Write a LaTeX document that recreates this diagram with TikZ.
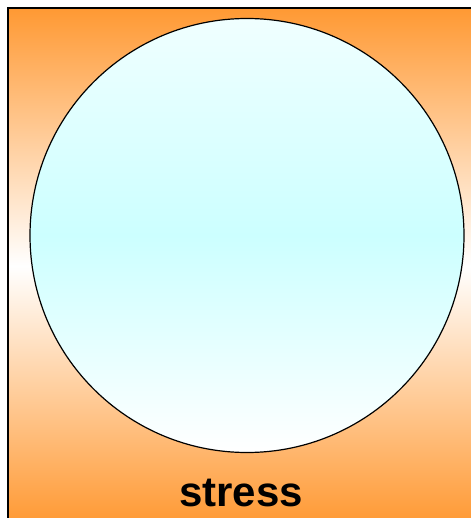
\documentclass[tikz,border=0pt]{standalone}
\usepackage{fontspec}
\setmainfont{Liberation Sans}
\definecolor{orng}{RGB}{255,153,51}
\definecolor{cyanmid}{RGB}{204,255,255}
\definecolor{cyantop}{RGB}{240,255,255}
\tikzset{
  panel/.style={top color=orng, bottom color=orng, middle color=white},
  edge/.style={draw=black, line width=2bp},
  ball/.style={draw=black, line width=1.2bp, top color=cyantop, bottom color=white, middle color=cyanmid},
  caption/.style={font=\bfseries\fontsize{42bp}{46bp}\selectfont, text=black, inner sep=0pt}
}
\begin{document}
\begin{tikzpicture}[x=1bp,y=-1bp]
\useasboundingbox (0,0) rectangle (471,518);
\path[panel] (8,8) rectangle (480,524);
\draw[edge] (8,520) -- (8,8) -- (480,8);
\node[ball, circle, minimum size=434bp, inner sep=0pt] (c) at (247,235.5) {};
\node[caption, anchor=base] (t) at (241,506) {stress};
\end{tikzpicture}
\end{document}
